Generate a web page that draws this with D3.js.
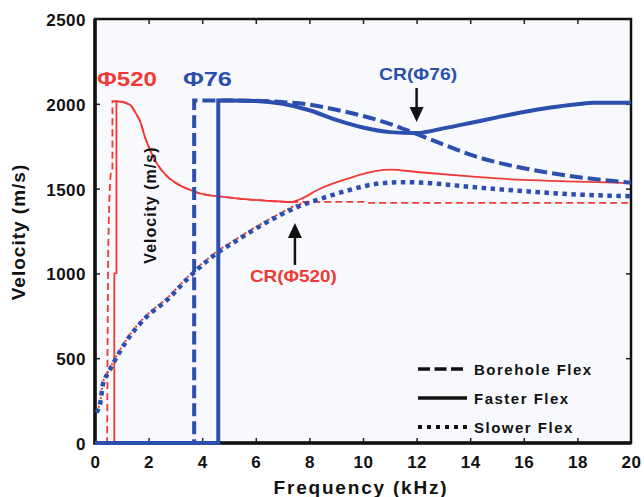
<!DOCTYPE html>
<html>
<head>
<meta charset="utf-8">
<script src="https://cdn.jsdelivr.net/npm/d3@7"></script>
<style>
  body { margin: 0; background: #fff; }
  svg { display: block; font-family: "Liberation Sans", Arial, sans-serif; }
</style>
</head>
<body>
<svg id="chart"></svg>
<script>
const width = 644;
const height = 497;
const margin = {top: 19, right: 13, bottom: 54, left: 95};

// axis ticks
const freqTicks = [0, 2, 4, 6, 8, 10, 12, 14, 16, 18, 20];
const velTicks = [0, 500, 1000, 1500, 2000, 2500];

// [frequency kHz, velocity m/s]
const borehole520 = [[0,0],[0.45,0],[0.47,600],[0.5,1200],[0.6,1600],[0.65,1620],[0.65,2015],[0.8,2015],
  [1.3,1995],[1.5,1950],[1.7,1890],[1.85,1810],[2.05,1730],[2.3,1650],[2.7,1570],[3.1,1525],[3.5,1495],
  [3.9,1472],[4.8,1451],[5.8,1435],[6.5,1428],[7.3,1421],[8,1422],[10,1422],[10.2,1416],[20,1416]];
const faster520 = [[0,0],[0.72,0],[0.72,1000],[0.8,1000],[0.8,2015],[1.3,1995],[1.5,1950],[1.7,1890],
  [1.85,1810],[2.05,1730],[2.3,1650],[2.7,1570],[3.1,1525],[3.5,1495],[3.9,1472],[4.8,1451],[5.8,1435],
  [6.5,1428],[7.3,1421],[7.7,1440],[8.3,1492],[9.5,1562],[10.5,1604],[11,1612],[12,1598],[14,1572],
  [16,1551],[18,1541],[20,1532]];
const slower520 = [[0.05,185],[0.2,250],[0.3,360],[0.5,425],[0.7,485],[1.2,617],[1.9,750],[2.7,855],
  [3.4,970],[3.9,1045],[4.6,1135],[5.2,1195],[5.8,1255],[6.8,1345],[7.6,1408],[8,1421]];
const borehole76 = [[0,0],[3.7,0],[3.7,2020],[5,2020],[6,2018],[7,2010],[8,1995],[9,1965],[10,1928],
  [11,1882],[12,1822],[13,1760],[14,1700],[15,1655],[16,1620],[17,1592],[18,1568],[19,1550],[20,1535]];
const faster76 = [[0,0],[4.6,0],[4.6,2020],[5,2020],[6,2017],[7,2000],[8,1962],[9,1905],[10,1860],
  [11,1833],[12,1828],[13,1855],[14,1887],[15,1920],[16,1952],[17,1978],[18,1997],[18.6,2006],[20,2006]];
const slower76 = [[0.05,180],[0.2,240],[0.3,350],[0.5,415],[0.7,475],[1.2,607],[1.9,740],[2.7,845],
  [3.4,960],[3.9,1035],[4.6,1125],[5.2,1185],[5.8,1245],[6.8,1335],[7.6,1395],[8.5,1444],[9.5,1492],
  [10.5,1528],[11.5,1538],[12.5,1532],[14,1510],[16,1485],[18,1465],[20,1455]];

const legendLabels = ["Borehole Flex", "Faster Flex", "Slower Flex"];

const red = "#ef3a35";
const blue = "#2c4fae";

const svg = d3.select("#chart")
  .attr("width", width)
  .attr("height", height);

const x = d3.scaleLinear().domain([0, 20]).range([margin.left, width - margin.right]);
const y = d3.scaleLinear().domain([0, 2500]).range([height - margin.bottom - 0, margin.top]);

// plot background
svg.append("rect")
  .attr("x", x(0)).attr("y", y(2500))
  .attr("width", x(20) - x(0)).attr("height", y(0) - y(2500))
  .attr("fill", "#f8f9fc");

// inward ticks on all four sides
const tickLen = 5;
svg.append("g").attr("transform", `translate(0,${y(0)})`)
  .call(d3.axisTop(x).tickValues(freqTicks.slice(1, -1)).tickSize(tickLen).tickFormat(""));
svg.append("g").attr("transform", `translate(0,${y(2500)})`)
  .call(d3.axisBottom(x).tickValues(freqTicks.slice(1, -1)).tickSize(tickLen).tickFormat(""));
svg.append("g").attr("transform", `translate(${x(0)},0)`)
  .call(d3.axisRight(y).tickValues(velTicks.slice(1, -1)).tickSize(tickLen).tickFormat(""));
svg.append("g").attr("transform", `translate(${x(20)},0)`)
  .call(d3.axisLeft(y).tickValues(velTicks.slice(1, -1)).tickSize(tickLen).tickFormat(""));
svg.selectAll(".domain").remove();
svg.selectAll(".tick line").attr("stroke", "#222").attr("stroke-width", 1.5);

// frame
svg.append("rect")
  .attr("x", x(0)).attr("y", y(2500))
  .attr("width", x(20) - x(0)).attr("height", y(0) - y(2500))
  .attr("fill", "none").attr("stroke", "#111").attr("stroke-width", 2.5);
svg.append("path")
  .attr("d", `M${x(0)},${y(2500)}V${y(0)}H${x(20)}`)
  .attr("fill", "none").attr("stroke", "#111").attr("stroke-width", 3.5);

// tick labels
svg.append("g").selectAll("text")
  .data(freqTicks).enter().append("text")
  .attr("x", d => x(d) + 0.5)
  .attr("y", y(0) + 25)
  .attr("text-anchor", "middle")
  .attr("font-size", "17px").attr("font-weight", "bold")
  .attr("letter-spacing", "0.5px")
  .attr("fill", "#111")
  .text(d => d);

svg.append("g").selectAll("text")
  .data(velTicks).enter().append("text")
  .attr("x", x(0) - 9)
  .attr("y", d => y(d) + 7)
  .attr("text-anchor", "end")
  .attr("font-size", "17px").attr("font-weight", "bold")
  .attr("letter-spacing", "0.5px")
  .attr("fill", "#111")
  .text(d => d);

// axis titles
svg.append("text")
  .attr("x", 361).attr("y", 494)
  .attr("text-anchor", "middle")
  .attr("font-size", "19px").attr("font-weight", "bold")
  .attr("letter-spacing", "1.8px")
  .attr("fill", "#111")
  .text("Frequency (kHz)");

svg.append("text")
  .attr("transform", "translate(25,232) rotate(-90)")
  .attr("text-anchor", "middle")
  .attr("font-size", "19px").attr("font-weight", "bold")
  .attr("letter-spacing", "1px")
  .attr("fill", "#111")
  .text("Velocity (m/s)");

// curves
const line = d3.line()
  .x(d => x(d[0]))
  .y(d => y(d[1]))
  .curve(d3.curveMonotoneX);

const series = [
  {data: borehole520, color: red, width: 1.8, dash: "7,4"},
  {data: slower520, color: red, width: 2, dash: "2,2.5"},
  {data: faster520, color: red, width: 1.8, dash: null},
  {data: slower76, color: blue, width: 4.5, dash: "4.5,4.5"},
  {data: borehole76, color: blue, width: 4, dash: "13,5"},
  {data: faster76, color: blue, width: 4, dash: null}
];

svg.append("g").selectAll("path")
  .data(series).enter().append("path")
  .attr("d", s => line(s.data))
  .attr("fill", "none")
  .attr("stroke", s => s.color)
  .attr("stroke-width", s => s.width)
  .attr("stroke-dasharray", s => s.dash);

// annotations
const labels = [
  {text: "Φ520", f: 0.075, v: 2105, size: 20, w: 60, color: red, anchor: "start"},
  {text: "Φ76", f: 3.28, v: 2105, size: 20, w: 49, color: blue, anchor: "start"},
  {text: "CR(Φ76)", f: 10.6, v: 2140, size: 17, w: 78, color: blue, anchor: "start"},
  {text: "CR(Φ520)", f: 5.78, v: 949, size: 17, w: 87, color: red, anchor: "start"}
];
svg.append("g").selectAll("text")
  .data(labels).enter().append("text")
  .attr("x", d => x(d.f))
  .attr("y", d => y(d.v))
  .attr("font-size", d => d.size + "px")
  .attr("font-weight", "bold")
  .attr("textLength", d => d.w)
  .attr("lengthAdjust", "spacingAndGlyphs")
  .attr("fill", d => d.color)
  .text(d => d.text);

svg.append("text")
  .attr("transform", `translate(${x(2.28)},${y(1403)}) rotate(-90)`)
  .attr("text-anchor", "middle")
  .attr("font-size", "16px").attr("font-weight", "bold")
  .attr("letter-spacing", "1px")
  .attr("fill", "#111")
  .text("Velocity (m/s)");

const arrows = [
  {f: 12.0, from: 2093, to: 1893},
  {f: 7.46, from: 1050, to: 1297}
];
arrows.forEach(a => {
  const x0 = x(a.f), y0 = y(a.from), y1 = y(a.to);
  const dir = y1 > y0 ? 1 : -1;
  svg.append("line")
    .attr("x1", x0).attr("y1", y0)
    .attr("x2", x0).attr("y2", y1 - dir * 12)
    .attr("stroke", "#111").attr("stroke-width", 2.5);
  svg.append("path")
    .attr("d", `M${x0},${y1}L${x0 - 7},${y1 - dir * 15}L${x0 + 7},${y1 - dir * 15}Z`)
    .attr("fill", "#111");
});

// legend
const legendStyles = [
  {dash: "12,4.5", width: 3.5},
  {dash: null, width: 3.5},
  {dash: "4,5", width: 4}
];
const legend = svg.append("g")
  .attr("transform", `translate(${x(20) - 213},${y(0) - 74})`);
legendLabels.forEach((name, i) => {
  const row = legend.append("g").attr("transform", `translate(0,${i * 29})`);
  row.append("line")
    .attr("x1", 0).attr("x2", 49)
    .attr("stroke", "#111")
    .attr("stroke-width", legendStyles[i].width)
    .attr("stroke-dasharray", legendStyles[i].dash);
  row.append("text")
    .attr("x", 56).attr("y", 5.5)
    .attr("font-size", "15px").attr("font-weight", "bold")
    .attr("letter-spacing", "1.5px")
    .attr("fill", "#111")
    .text(name);
});
</script>
</body>
</html>
